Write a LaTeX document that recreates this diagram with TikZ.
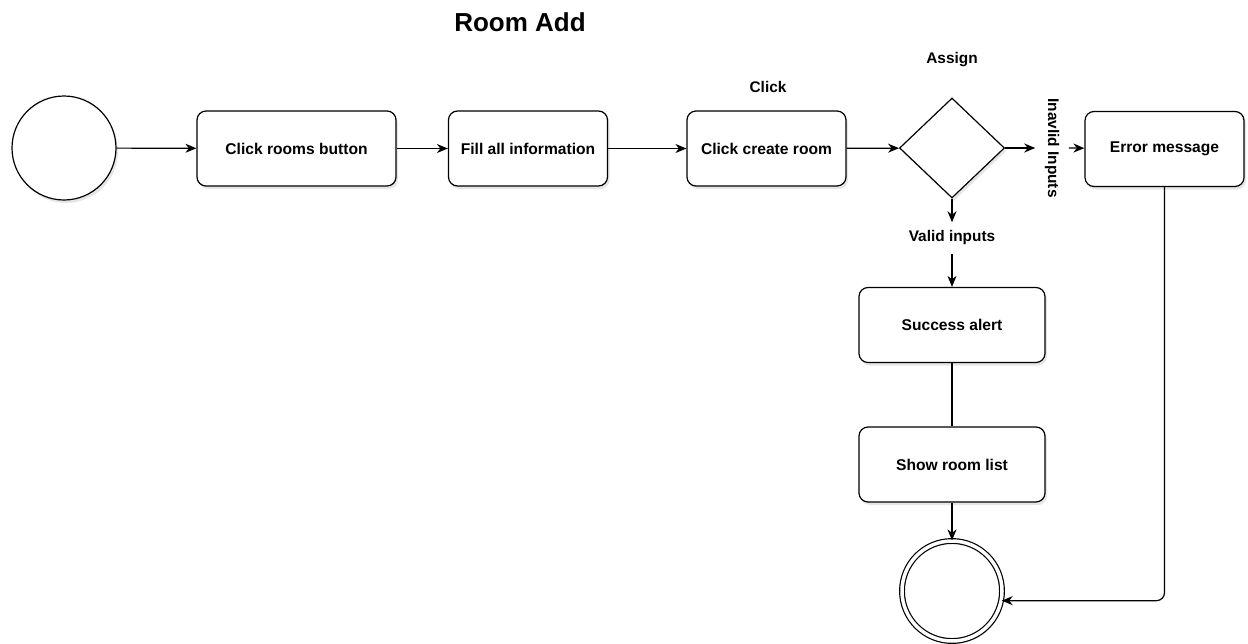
\documentclass[tikz,border=0pt]{standalone}
\usepackage{fontspec}
\setmainfont{Liberation Sans}
\usetikzlibrary{arrows.meta,shapes.geometric,shadows}
\begin{document}
\begin{tikzpicture}[x=1pt,y=-1pt,
  line width=1.2pt,
  shade/.style={drop shadow={shadow xshift=2pt,shadow yshift=-3pt,opacity=0.2,fill=gray}},
  act/.style={draw,rounded corners=9pt,fill=white,shade,minimum width=#1,minimum height=75pt,
    inner sep=0pt,font=\fontsize{15.6}{18}\selectfont\bfseries},
  act/.default=159pt,
  lbl/.style={font=\fontsize{15.4}{18}\selectfont\bfseries,inner sep=0pt},
  arr/.style={-{Stealth[length=11pt,width=9pt,inset=3.5pt]}}]
\useasboundingbox (0,0) rectangle (1248,643);

% title
\node[font=\fontsize{26}{31}\selectfont\bfseries] (title) at (520,22) {Room Add};

% start and end states
\node[draw,circle,fill=white,shade,minimum size=104pt,inner sep=0pt] (start) at (64,148) {};
\node[draw,circle,double,double distance=3.5pt,fill=white,shade,minimum size=100pt,inner sep=0pt] (stop) at (952,591) {};

% activities
\node[act=199pt] (rooms) at (296.5,148.5) {Click rooms button};
\node[act] (fill) at (528,148.5) {Fill all information};
\node[act] (create) at (766.5,148.5) {Click create room};
\node[draw,diamond,aspect=1.05,fill=white,shade,minimum width=105pt,minimum height=100pt,inner sep=0pt] (dec) at (952,148) {};
\node[act] (err) at (1164.5,149) {Error message};
\node[act=186pt] (ok) at (952,325) {Success alert};
\node[act=186pt] (list) at (952,464.5) {Show room list};

% labels
\node[lbl] (click) at (768,87) {Click};
\node[lbl] (assign) at (952,60) {Assign};
\node[lbl,rotate=-90,inner sep=9pt] (inv) at (1052,148) {Inavlid Inputs};
\node[lbl,inner sep=8pt] (valid) at (952,238) {Valid inputs};

% flow
\draw[arr] (start) -- (rooms);
\draw[arr] (rooms) -- (fill);
\draw[arr] (fill) -- (create);
\draw[arr] (create) -- (dec);
\draw[arr] (dec.east) -- (inv.south);
\draw[arr] (inv.north) -- (err);
\draw[arr] (dec.south) -- (valid.north);
\draw[arr] (valid.south) -- (ok);
\draw (ok) -- (list);
\draw[arr] (list) -- (stop);
\draw[arr,rounded corners=8pt] (err.south) |- (stop.-11);
\end{tikzpicture}
\end{document}
